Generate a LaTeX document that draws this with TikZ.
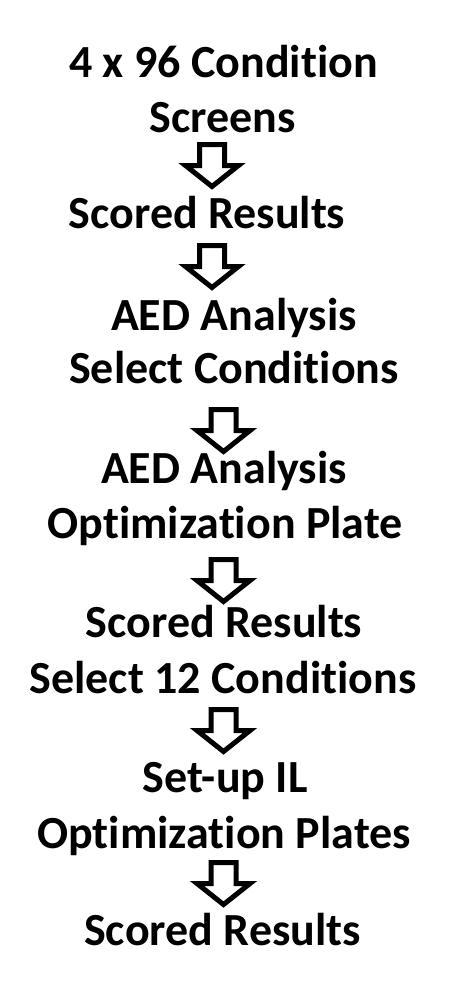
\documentclass[tikz,border=0pt]{standalone}
\usepackage{fontspec}
\setmainfont{Carlito}[Ligatures={CommonOff,ContextualOff}]
\usetikzlibrary{calc}
\begin{document}
\begin{tikzpicture}[x=1pt,y=-1pt,
  lbl/.style={anchor=base,inner sep=0pt,font=\fontsize{46}{54}\selectfont\bfseries},
  blockarrow/.style={draw=black,fill=white,line width=5pt,line join=miter,miter limit=10}]
\useasboundingbox (0,0) rectangle (474,1005);
\fill[white] (0,0) rectangle (474,1005);
\newcommand\downarrowat[1]{%
  \draw[blockarrow] ($(#1)+(-12.5,2.5)$) -- ($(#1)+(12.5,2.5)$) -- ($(#1)+(12.5,23.5)$)
    -- ($(#1)+(26.5,23.5)$) -- ($(#1)+(0,44.5)$) -- ($(#1)+(-26.5,23.5)$)
    -- ($(#1)+(-12.5,23.5)$) -- cycle;}
\node[lbl] (a1) at (223.5,77) {4 x 96 Condition};
\node[lbl] (a2) at (222.5,132) {Screens};
\node[lbl] (b1) at (207,228) {Scored Results};
\node[lbl] (c1) at (234,330) {AED Analysis};
\node[lbl] (c2) at (234,383) {Select Conditions};
\node[lbl] (d1) at (224,483) {AED Analysis};
\node[lbl] (d2) at (225,538) {Optimization Plate};
\node[lbl] (e1) at (224,637) {Scored Results};
\node[lbl] (e2) at (223,693) {Select 12 Conditions};
\node[lbl] (f1) at (225,792) {Set-up IL};
\node[lbl] (f2) at (224,848) {Optimization Plates};
\node[lbl] (g1) at (222.5,945) {Scored Results};
\coordinate (r1) at (212,142);
\coordinate (r2) at (212,243);
\coordinate (r3) at (223.5,407);
\coordinate (r4) at (223.5,557);
\coordinate (r5) at (223.5,707);
\coordinate (r6) at (223.5,860);
\downarrowat{r1}
\downarrowat{r2}
\downarrowat{r3}
\downarrowat{r4}
\downarrowat{r5}
\downarrowat{r6}
\end{tikzpicture}
\end{document}
